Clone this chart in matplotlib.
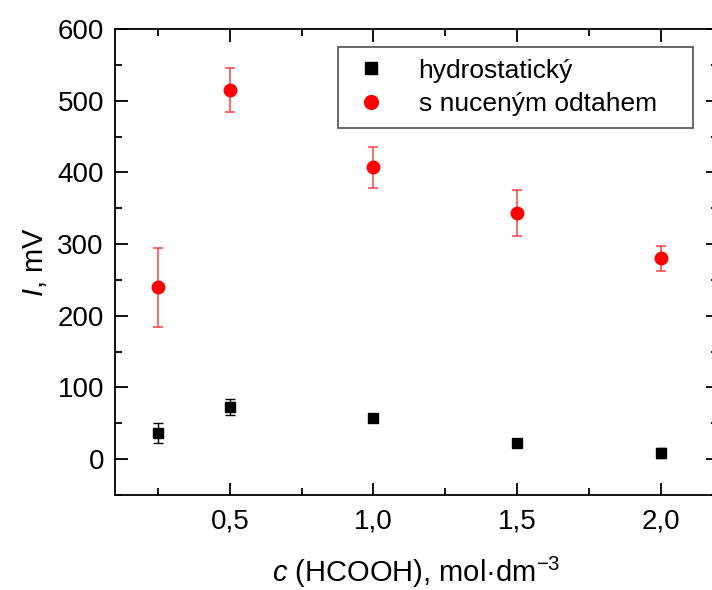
import matplotlib
matplotlib.use("Agg")
import matplotlib.pyplot as plt
from matplotlib.ticker import MultipleLocator, FuncFormatter

plt.rcParams['font.family'] = ['Liberation Sans', 'DejaVu Sans']
plt.rcParams['mathtext.fontset'] = 'custom'
plt.rcParams['mathtext.rm'] = 'Liberation Sans'
plt.rcParams['mathtext.it'] = 'Liberation Sans:italic'

# concentrations, mol/dm3
conc = [0.25, 0.5, 1.0, 1.5, 2.0]
# hydrostatic
hydro = [37, 73, 58, 23, 9]
hydro_err = [14, 11, 3, 2, 7]
# forced flow
forced = [240, 515, 407, 343, 280]
forced_err = [55, 31, 29, 32, 18]

fig = plt.figure(figsize=(7.12, 5.9), dpi=100)
ax = fig.add_axes([0.1615, 0.161, 0.847, 0.7898])

ax.errorbar(conc, hydro, yerr=hydro_err, fmt='none', ecolor='black',
            elinewidth=1, capsize=3.5, capthick=1)
ax.errorbar(conc, forced, yerr=forced_err, fmt='none', ecolor='#ff4040',
            elinewidth=1.1, capsize=3.5, capthick=1.1)
ax.plot(conc, hydro, 's', color='black', ms=7.5, label='hydrostatický')
ax.plot(conc, forced, 'o', color='red', ms=9, label='s nuceným odtahem')

ax.set_xlim(0.1, 2.2)
ax.set_ylim(-50, 600)
ax.xaxis.set_major_locator(MultipleLocator(0.5))
ax.xaxis.set_minor_locator(MultipleLocator(0.25))
ax.yaxis.set_major_locator(MultipleLocator(100))
ax.yaxis.set_minor_locator(MultipleLocator(50))
ax.xaxis.set_major_formatter(FuncFormatter(lambda v, p: f"{v:.1f}".replace('.', ',')))

ax.tick_params(which='both', direction='in', top=True, right=True, labelsize=20, width=1.3)
ax.tick_params(which='major', length=9, pad=8)
ax.tick_params(axis='x', which='major', pad=10)
ax.tick_params(which='minor', length=5)
for s in ax.spines.values():
    s.set_linewidth(1.3)

ax.set_xlabel(r"$c$ (HCOOH), mol·dm$^{\mathregular{-3}}$", fontsize=21, labelpad=14)
ax.set_ylabel(r"$I$, mV", fontsize=21, labelpad=6)

leg = ax.legend(loc='upper left', bbox_to_anchor=(0.37, 0.0, 0.589, 0.962),
                mode='expand', borderaxespad=0,
                fontsize=19, frameon=True, fancybox=False, edgecolor='#333333',
                handletextpad=1.0, borderpad=0.45, labelspacing=0.35,
                handlelength=1.6, markerscale=1.1)
leg.get_frame().set_linewidth(1.3)

fig.savefig("out.png", dpi=100)
